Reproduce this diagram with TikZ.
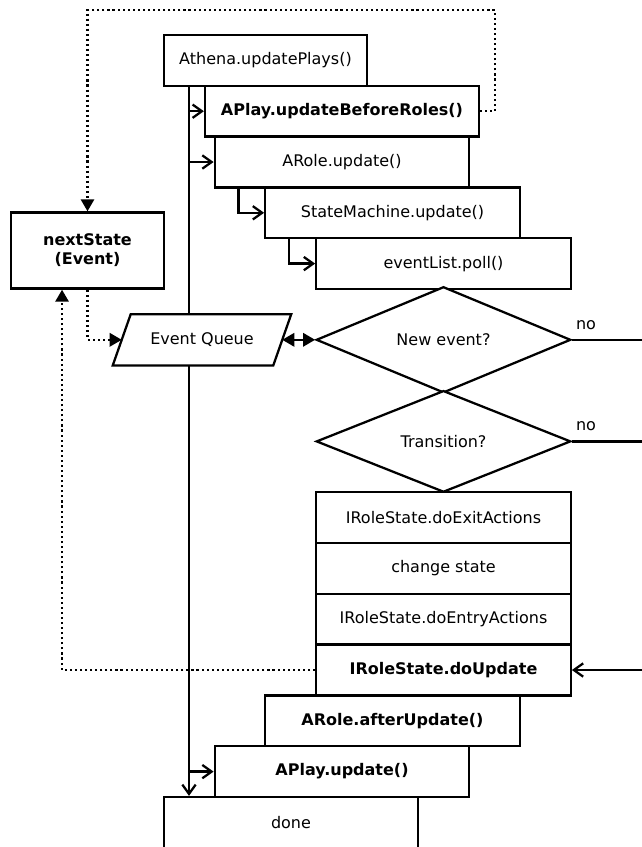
\documentclass[tikz,border=0pt]{standalone}
\usepackage{fontspec}
\setmainfont{DejaVu Sans}
\usetikzlibrary{arrows.meta,shapes.geometric,calc}
\begin{document}
\begin{tikzpicture}[x=0.75pt,y=-0.75pt,
  font=\fontsize{12}{14.4}\selectfont,
  lw/.style={line width=1.7pt},
  blk/.style={draw,lw,fill=white,inner sep=0pt,minimum height=38.1pt,minimum width=190.9pt},
  bf/.style={font=\fontsize{12}{14.4}\selectfont\bfseries},
  dia/.style={draw,lw,fill=white,diamond,inner sep=0pt,minimum width=190.9pt,minimum height=76.2pt},
  oarr/.style={lw,-{Straight Barb[length=7pt,width=10pt]}},
  tri/.style={-{Triangle[length=9pt,width=10pt]}},
  dotln/.style={line width=1.6pt,dash pattern=on 1.6pt off 2.2pt},
]
\useasboundingbox (0,0) rectangle (642,847);
\clip (0,0) rectangle (642,847);

% call stack, top part
\node[blk,minimum width=152.25pt] (athena) at (265.5,60.4) {Athena.updatePlays()};
\node[blk,bf,minimum width=205.5pt] (before) at (342,111.2) {APlay.updateBeforeRoles()};
\node[blk] (arole) at (342,162) {ARole.update()};
\node[blk] (sm) at (392.5,212.8) {StateMachine.update()};
\node[blk] (poll) at (443.5,263.6) {eventList.poll()};

% decisions
\node[dia] (newevent) at (443.5,339.8) {New event?};
\node[dia] (trans) at (443.5,441.4) {Transition?};

% state change block
\node[blk] (exit) at (443.5,517.6) {IRoleState.doExitActions};
\node[blk] (change) at (443.5,568.4) {change state};
\node[blk] (entry) at (443.5,619.2) {IRoleState.doEntryActions};
\node[blk,bf] (doupdate) at (443.5,670) {IRoleState.doUpdate};

% call stack, unwinding
\node[blk,bf] (after) at (392.5,720.8) {ARole.afterUpdate()};
\node[blk,bf] (aplayupd) at (342,771.6) {APlay.update()};
\node[blk] (done) at (291,822.4) {done};

% side nodes
\node[draw,lw,bf,fill=white,align=center,inner sep=0pt,minimum width=114.75pt,minimum height=57.15pt] (nextstate) at (87.5,250.5) {nextState\\(Event)};
\node[inner sep=0pt,minimum width=120pt,minimum height=38.1pt] (evq) at (202,339.8) {};

\node (no1) at (586,325) {no};
\node (no2) at (586,426) {no};

% main control line
\coordinate (trunk) at (189,0);
\draw[oarr] (athena.south -| trunk) -- (done.north -| trunk);
\draw[oarr] (before.west -| trunk) -- (before.west);
\draw[oarr] (arole.west -| trunk) -- (arole.west);
\draw[oarr] (aplayupd.west -| trunk) -- (aplayupd.west);
\draw[oarr] ([xshift=18.75pt]arole.south west) |- (sm.west);
\draw[oarr] ([xshift=18.75pt]sm.south west) |- (poll.west);

% event queue (drawn over the control line)
\draw[lw,fill=white] ($(evq.north west)+(9,0)$) -- ($(evq.north east)+(9,0)$)
  -- ($(evq.south east)+(-9,0)$) -- ($(evq.south west)+(-9,0)$) -- cycle;
\node at (evq) {Event Queue};

\draw[lw,{Triangle[length=9pt,width=10pt]}-{Triangle[length=9pt,width=10pt]}] (evq.east) -- (newevent.west);

% "no" branches
\draw[lw] (newevent.east) -- ++(90,0);
\draw[lw] (trans.east) -- ++(90,0);
\draw[oarr] ($(doupdate.east)+(90,0)$) -- (doupdate.east);

% event flow (dotted)
\draw[dotln,tri] (before.east) -- ++(15,0) -- ++(0,-101) -| (nextstate.north);
\draw[dotln,tri] (nextstate.south) |- (evq.west);
\draw[dotln,tri] (doupdate.west) -| ([xshift=-19.1pt]nextstate.south);
\end{tikzpicture}
\end{document}
